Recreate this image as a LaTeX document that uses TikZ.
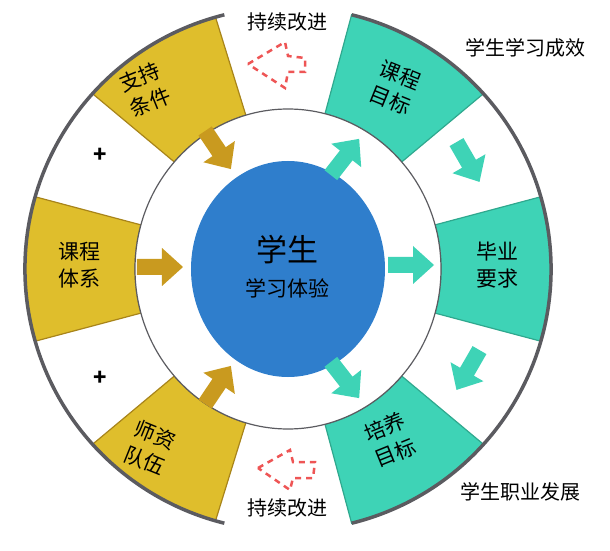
\documentclass[tikz,border=0pt]{standalone}
\usepackage{fontspec}
\setmainfont{Noto Sans CJK SC}
\definecolor{goldseg}{HTML}{DFBE2C}
\definecolor{goldedge}{HTML}{A8841A}
\definecolor{goldarr}{HTML}{C99A1F}
\definecolor{tealseg}{HTML}{3ED3B6}
\definecolor{tealedge}{HTML}{2FA88E}
\definecolor{bluecore}{HTML}{2F7ECC}
\definecolor{ringgray}{HTML}{5B5B60}
\definecolor{loopred}{HTML}{EE5555}

\tikzset{
	blockarr/.pic={\fill[#1] (-23, -8) -- (2, -8) -- (2, -19) -- (23, 0) -- (2, 19) -- (2, 8) -- (-23, 8) -- cycle;},
	segtext/.style={font=\fontsize{21}{27}\selectfont, align=center},
	sidetext/.style={font=\fontsize{20}{24}\selectfont}
}
% draw one annular sector: start angle, end angle, fill, edge
\newcommand{\ringseg}[4]{
	\filldraw[fill=#3, draw=#4, line width=1.2pt] (#1:263 and 262) arc[start angle=#1, end angle=#2, x radius=263, y radius=262] -- (#2:153 and 160) arc[start angle=#2, end angle=#1, x radius=153, y radius=160] -- cycle;
}

\begin{document}
\begin{tikzpicture}[x=1pt, y=1pt]
	\useasboundingbox (-288, -282) rectangle (322, 269);

	\ringseg{106}{138}{goldseg}{goldedge}
	\ringseg{164}{196}{goldseg}{goldedge}
	\ringseg{222}{254}{goldseg}{goldedge}
	\ringseg{42}{76}{tealseg}{tealedge}
	\ringseg{-16}{16}{tealseg}{tealedge}
	\ringseg{-76}{-42}{tealseg}{tealedge}

	% outer gray rim and inner circle
	\draw[ringgray, line width=3.5pt] (104:263 and 262) arc[start angle=104, end angle=256, x radius=263, y radius=262];
	\draw[ringgray, line width=3.5pt] (-76:263 and 262) arc[start angle=-76, end angle=76, x radius=263, y radius=262];
	\draw[ringgray, line width=1.2pt, fill=white] (0, 0) ellipse (153 and 160);
	\fill[bluecore] (0, 0) ellipse (97 and 108);

	\node[font=\fontsize{31}{34}\selectfont] (core) at (0, 19) {学生};
	\node[font=\fontsize{21}{24}\selectfont] (exp) at (0, -19) {学习体验};

	\node[segtext, rotate=22] (cond) at (-143, 179) {支持\\条件};
	\node[segtext] (sys) at (-208, 4) {课程\\体系};
	\node[segtext, rotate=-22] (staff) at (-138, -179) {师资\\队伍};
	\node[segtext, rotate=-22] (goal) at (107, 181) {课程\\目标};
	\node[segtext] (req) at (209, 4) {毕业\\要求};
	\node[segtext, rotate=22] (aim) at (102, -171) {培养\\目标};

	\node[font=\fontsize{22}{22}\selectfont\bfseries] (plus1) at (-188, 114) {+};
	\node[font=\fontsize{22}{22}\selectfont\bfseries] (plus2) at (-188, -109) {+};

	\node[sidetext] (imp1) at (-1, 247) {持续改进};
	\node[sidetext] (imp2) at (-1, -239) {持续改进};
	\node[sidetext] (eff) at (237, 221) {学生学习成效};
	\node[sidetext] (car) at (232, -223) {学生职业发展};

	% block arrows
	\pic (ga1) at (-128, 2) {blockarr=goldarr};
	\pic[rotate=-56] (ga2) at (-70, 119) {blockarr=goldarr};
	\pic[rotate=56] (ga3) at (-70, -116) {blockarr=goldarr};
	\pic (ta1) at (123, 4) {blockarr=tealseg};
	\pic[rotate=52] (ta2) at (57, 112) {blockarr=tealseg};
	\pic[rotate=-52] (ta3) at (57, -111) {blockarr=tealseg};
	\pic[rotate=-60] (ta4) at (180, 107) {blockarr=tealseg};
	\pic[rotate=-120] (ta5) at (180, -101) {blockarr=tealseg};

	% dashed loop marks
	\draw[loopred, line width=2.5pt, dash pattern=on 6pt off 5pt] (-40, 205) -- (-3, 227) -- (0, 213) -- (17, 211) -- (17, 197) -- (0, 197) -- (-3, 181) -- cycle;
	\draw[loopred, line width=2.5pt, dash pattern=on 6pt off 5pt] (-30, -199) -- (2, -181) -- (5, -193) -- (27, -193) -- (25, -209) -- (5, -209) -- (2, -221) -- cycle;
\end{tikzpicture}
\end{document}
